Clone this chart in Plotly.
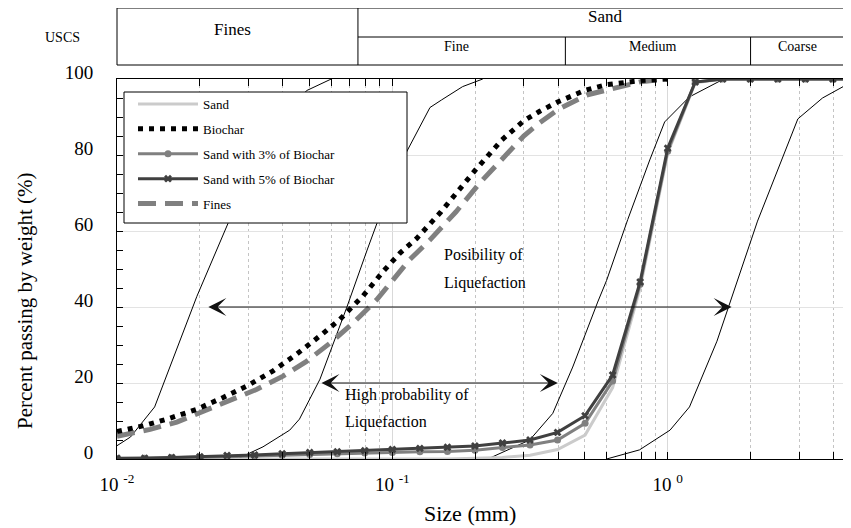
import numpy as np
import plotly.graph_objects as go

# ---------------- data ----------------
sieve_mm = [0.0100, 0.0126, 0.0158, 0.0200, 0.0251, 0.0316, 0.0398, 0.0501, 0.0631, 0.0794,
            0.1000, 0.1259, 0.1585, 0.1995, 0.2512, 0.3162, 0.3981, 0.5012, 0.6310, 0.7943,
            1.0000, 1.2589, 1.5849, 1.9953, 2.5119, 3.1623, 3.9811, 5.0119]
sand_pct = [0, 0, 0, 0, 0, 0, 0, 0, 0, 0,
            0, 0, 0, 0.2, 0.4, 1.0, 2.5, 6.3, 18.8, 45.0,
            80.5, 99.0, 100, 100, 100, 100, 100, 100]
sand3_pct = [0.1, 0.2, 0.3, 0.4, 0.6, 0.8, 1.0, 1.2, 1.4, 1.6,
             1.7, 1.9, 2.0, 2.3, 3.0, 3.7, 5.0, 9.4, 20.5, 46.0,
             81.0, 99.2, 100, 100, 100, 100, 100, 100]
sand5_pct = [0.2, 0.2, 0.4, 0.6, 0.9, 1.05, 1.4, 1.7, 1.9, 2.2,
             2.5, 2.8, 3.1, 3.4, 4.2, 5.0, 7.0, 11.4, 22.1, 46.6,
             81.8, 99.2, 100, 100, 100, 100, 100, 100]

biochar_mm = [0.0100, 0.0124, 0.0152, 0.0195, 0.0243, 0.0296, 0.0369, 0.0449, 0.0546, 0.0644,
              0.0782, 0.0927, 0.1066, 0.1224, 0.150, 0.200, 0.250, 0.300, 0.343, 0.400,
              0.500, 0.600, 0.800, 1.000]
biochar_pct = [7.2, 8.7, 10.5, 13.1, 16.2, 19.2, 23.2, 27.6, 32.4, 36.7,
               42.9, 49.4, 54.2, 58.0, 65.0, 76.0, 84.0, 89.0, 91.5, 94.0,
               97.0, 98.5, 99.6, 100]

fines_mm = [0.0100, 0.0132, 0.0165, 0.0206, 0.0257, 0.0321, 0.0401, 0.0488, 0.0594, 0.0721,
            0.0877, 0.1006, 0.1154, 0.1368, 0.170, 0.210, 0.260, 0.300, 0.343, 0.400,
            0.508, 0.630, 0.800, 1.000]
fines_pct = [6.0, 7.8, 9.7, 12.6, 15.2, 18.3, 21.8, 25.7, 30.5, 35.8,
             41.9, 47.1, 52.4, 57.6, 65.0, 73.0, 80.0, 85.0, 88.5, 92.0,
             95.8, 97.6, 99.3, 100]

# liquefaction boundary curves (thin black)
limA_mm = [0.0100, 0.0112, 0.0137, 0.0195, 0.0253, 0.030, 0.035, 0.040, 0.049, 0.060]
limA_pct = [3.5, 5.8, 13.7, 42.8, 62.0, 75.0, 85.0, 91.0, 97.0, 100]
limB_mm = [0.0273, 0.0339, 0.0424, 0.046, 0.0546, 0.0684, 0.081, 0.0879, 0.113, 0.137, 0.151, 0.180, 0.213]
limB_pct = [0, 3.2, 7.6, 10.5, 21.0, 40.0, 55.0, 62.0, 81.0, 92.5, 94.5, 98.0, 100]
limC_mm = [0.222, 0.3155, 0.3825, 0.430, 0.452, 0.557, 0.600, 0.716, 0.861, 0.975, 1.20, 1.57, 1.80]
limC_pct = [0, 5.0, 12.0, 20.5, 24.2, 41.3, 47.0, 63.0, 78.7, 88.7, 95.3, 99.7, 100]
limD_mm = [0.60, 0.79, 1.02, 1.20, 1.51, 1.68, 2.12, 2.97, 3.65, 4.57]
limD_pct = [0, 2.4, 7.6, 13.7, 31.0, 41.0, 62.6, 89.5, 95.0, 98.9]

# arrows (mm range, percent level)
possible_mm = [0.0212, 1.707]
possible_level = 40
high_mm = [0.0546, 0.399]
high_level = 20

# USCS header
uscs_bounds_mm = [0.01, 0.075, 0.425, 2.0, 4.75]
uscs_sub_labels = ["Fine", "Medium", "Coarse"]

x_tick_vals = [0.01, 0.1, 1]
x_tick_text = ["10 <sup>-2</sup>", "10 <sup>-1</sup>", "10 <sup>0</sup>"]
y_tick_vals = [0, 20, 40, 60, 80, 100]

# ---------------- geometry ----------------
W, H = 851, 528
L, R, T, B = 109, 5, 71, 77
OFF = 8  # page body margin
PW, PH = W - L - R, H - T - B
XMIN, XMAX = -2.0, float(np.log10(uscs_bounds_mm[-1]))
FONT = "Liberation Serif"


def fx_px(px):
    return (px - OFF - L) / PW


def fy_px(py):
    return (H - B - (py - OFF)) / PH


def fx_mm(v):
    return (np.log10(v) - XMIN) / (XMAX - XMIN)


fig = go.Figure()

for xs, ys in [(limA_mm, limA_pct), (limB_mm, limB_pct), (limC_mm, limC_pct), (limD_mm, limD_pct)]:
    fig.add_trace(go.Scatter(x=xs, y=ys, mode="lines", line=dict(color="black", width=1),
                             showlegend=False, hoverinfo="skip"))

fig.add_trace(go.Scatter(x=fines_mm, y=fines_pct, mode="lines", name="Fines",
                         line=dict(color="#808080", width=5, dash="18px,9px"),
                         legendrank=5, legendgroup="e"))
fig.add_trace(go.Scatter(x=biochar_mm, y=biochar_pct, mode="lines", name="Biochar",
                         line=dict(color="black", width=5, dash="5px,6px"),
                         legendrank=2, legendgroup="b"))
fig.add_trace(go.Scatter(x=sieve_mm, y=sand_pct, mode="lines", name="Sand",
                         line=dict(color="#cbcbcb", width=3),
                         legendrank=1, legendgroup="a"))
fig.add_trace(go.Scatter(x=sieve_mm, y=sand3_pct, mode="lines+markers", name="Sand with 3% of Biochar",
                         line=dict(color="#808080", width=3),
                         marker=dict(symbol="circle", size=7, color="#808080"),
                         legendrank=3, legendgroup="c"))
fig.add_trace(go.Scatter(x=sieve_mm, y=sand5_pct, mode="lines+markers", name="Sand with 5% of Biochar",
                         line=dict(color="#404040", width=3),
                         marker=dict(symbol="x", size=7, color="#404040", line=dict(width=0)),
                         legendrank=4, legendgroup="d"))

minor_vals = [m * 10.0 ** e for e in (-2, -1, 0) for m in range(2, 10) if m * 10.0 ** e < 4.7]

fig.update_layout(
    width=W, height=H,
    margin=dict(l=L, r=R, t=T, b=B),
    paper_bgcolor="white", plot_bgcolor="white",
    font=dict(family=FONT, color="black"),
    showlegend=True,
    legend=dict(x=fx_px(133), y=fy_px(89), xanchor="left", yanchor="top",
                bgcolor="rgba(0,0,0,0)", borderwidth=0, font=dict(size=13, family=FONT),
                itemwidth=60, tracegroupgap=5),
)

fig.update_xaxes(
    type="log", range=[XMIN, XMAX],
    tickmode="array", tickvals=x_tick_vals, ticktext=x_tick_text,
    tickfont=dict(size=19, family=FONT),
    ticks="inside", ticklen=7, tickcolor="black", tickwidth=1,
    showline=True, linecolor="black", linewidth=1, mirror="ticks",
    showgrid=True, gridcolor="#d9d9d9", gridwidth=1, zeroline=False,
    ticklabelstandoff=8,
    minor=dict(tickmode="array", tickvals=minor_vals, ticks="inside", ticklen=7,
               tickcolor="black", showgrid=True, gridcolor="#c4c4c4", griddash="dot", gridwidth=1),
)
fig.update_yaxes(
    range=[0, 100], tickmode="array", tickvals=y_tick_vals,
    tickfont=dict(size=19, family=FONT),
    ticks="inside", ticklen=6, tickcolor="black",
    showline=True, linecolor="black", linewidth=1, mirror=False,
    showgrid=True, gridcolor="#e3e3e3", gridwidth=1, zeroline=False,
    ticklabelstandoff=19, ticklabelshift=-7,
    minor=dict(dtick=5, ticks="inside", ticklen=6, tickcolor="black", showgrid=False),
)

# legend box
fig.add_shape(type="rect", xref="paper", yref="paper",
              x0=fx_px(124), x1=fx_px(407), y0=fy_px(223), y1=fy_px(92),
              fillcolor="white", line=dict(color="black", width=1), layer="above")

# USCS header table
y_top, y_mid, y_bot = fy_px(8), fy_px(37), fy_px(65)
hline = dict(color="black", width=1)
x_left = fx_mm(uscs_bounds_mm[0])
x_right = fx_mm(uscs_bounds_mm[-1]) + 0.02
fig.add_shape(type="line", xref="paper", yref="paper", x0=x_left, x1=x_right,
              y0=y_top, y1=y_top, line=hline)
fig.add_shape(type="line", xref="paper", yref="paper", x0=x_left, x1=x_right,
              y0=y_bot, y1=y_bot, line=hline)
fig.add_shape(type="line", xref="paper", yref="paper", x0=fx_mm(uscs_bounds_mm[1]), x1=x_right,
              y0=y_mid, y1=y_mid, line=hline)
for b in uscs_bounds_mm[:2]:
    fig.add_shape(type="line", xref="paper", yref="paper", x0=fx_mm(b), x1=fx_mm(b),
                  y0=y_bot, y1=y_top, line=hline)
for b in uscs_bounds_mm[2:4]:
    fig.add_shape(type="line", xref="paper", yref="paper", x0=fx_mm(b), x1=fx_mm(b),
                  y0=y_bot, y1=y_mid, line=hline)


def cell_center(a, b):
    return (fx_mm(a) + fx_mm(b)) / 2


def paper_text(x, y, text, size, xshift=0, angle=0):
    fig.add_annotation(x=x, y=y, xref="paper", yref="paper", text=text, showarrow=False,
                       xanchor="center", yanchor="middle", xshift=xshift, textangle=angle,
                       font=dict(size=size, family=FONT, color="black"))


paper_text(fx_px(62), fy_px(37), "USCS", 14)
paper_text(cell_center(uscs_bounds_mm[0], uscs_bounds_mm[1]), fy_px(29), "Fines", 17, xshift=-5)
paper_text(cell_center(uscs_bounds_mm[1], uscs_bounds_mm[4]), fy_px(17), "Sand", 17)
for i, lab in enumerate(uscs_sub_labels):
    paper_text(cell_center(uscs_bounds_mm[i + 1], uscs_bounds_mm[i + 2]), fy_px(46), lab, 14, xshift=-5)

# arrows
for rng, lvl in [(possible_mm, possible_level), (high_mm, high_level)]:
    fig.add_annotation(x=np.log10(rng[1]), y=lvl, ax=np.log10(rng[0]), ay=lvl,
                       xref="x", yref="y", axref="x", ayref="y", text="",
                       showarrow=True, arrowhead=3, startarrowhead=3, arrowside="end+start",
                       arrowsize=3.0, startarrowsize=3.0, arrowwidth=1, arrowcolor="#111111")

# arrow labels
for xmm, lvl, txt in [(0.151, 53.7, "Posibility of"), (0.151, 46.3, "Liquefaction"),
                      (0.0661, 16.8, "High probability of"), (0.0661, 9.7, "Liquefaction")]:
    fig.add_annotation(x=np.log10(xmm), y=lvl, xref="x", yref="y", text=txt,
                       showarrow=False, xanchor="left", yanchor="middle",
                       font=dict(size=16, family=FONT, color="black"))

# axis titles
paper_text(fx_px(470), fy_px(513), "Size (mm)", 22)
paper_text(fx_px(25), fy_px(301), "Percent passing by weight (%)", 21, angle=-90)

fig.write_html("out.html")
